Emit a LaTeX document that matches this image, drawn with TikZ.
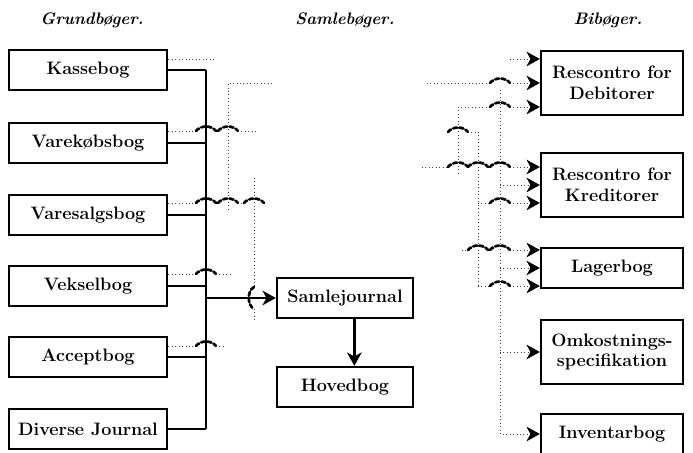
\documentclass[tikz,border=0pt]{standalone}
\usetikzlibrary{arrows.meta}
\newcommand\hopover[2]{\draw[hop] ({#1-10},#2) .. controls ({#1-5},{#2-6}) and ({#1+5},{#2-6}) .. ({#1+10},#2);}
\begin{document}
\begin{tikzpicture}[x=0.75pt, y=-0.75pt,
    book/.style={draw, line width=1.8pt, minimum height=30pt, inner sep=2pt,
      font=\fontsize{13.5}{15.5}\selectfont\bfseries, align=center},
    grundbook/.style={book, minimum width=118.5pt},
    midbook/.style={book, minimum width=102pt},
    bibook/.style={book, minimum width=106.5pt},
    coltitle/.style={font=\fontsize{12.5}{14}\selectfont\bfseries\itshape},
    busline/.style={line width=1.8pt},
    dots/.style={dotted, line width=0.6pt, black!75},
    hop/.style={line width=2pt, dash pattern=on 3pt off 1.8pt, line cap=round},
    arr/.style={-{Stealth[length=10pt, width=11pt, inset=3pt, color=black]}}]
    \useasboundingbox (0,0) rectangle (693,453);
    % column titles
    \node[coltitle] (t1) at (92,20) {Grundbøger.};
    \node[coltitle] (t2) at (345,20) {Samlebøger.};
    \node[coltitle] (t3) at (608,20) {Bibøger.};
    % Grundboger and the bus
    \node[grundbook] (kasse) at (88,70) {Kassebog};
    \node[grundbook] (varek) at (88,143) {Varekøbsbog};
    \node[grundbook] (vares) at (88,215) {Varesalgsbog};
    \node[grundbook] (veksel) at (88,286) {Vekselbog};
    \node[grundbook] (accept) at (88,357) {Acceptbog};
    \node[grundbook] (divers) at (88,429) {Diverse Journal};
    \coordinate (b1) at (206,70);
    \draw[busline] (b1) -- (b1 |- divers.east);
    \foreach \n in {kasse,varek,vares,veksel,accept,divers}
      \draw[busline] (\n.east) -- (\n.east -| b1);
    % Samleboger
    \node[midbook] (samle) at (345,298) {Samlejournal};
    \node[midbook] (hoved) at (345,387) {Hovedbog};
    \draw[busline, arr] (samle.west -| b1) -- (samle.west);
    \draw[busline, arr] ([xshift=7pt]samle.south) -- ([xshift=7pt]hoved.north);
    % Biboger
    \node[bibook, minimum height=48pt] (debit) at (612,83) {Rescontro for\\Debitorer};
    \node[bibook, minimum height=48pt] (kredit) at (612,185) {Rescontro for\\Kreditorer};
    \node[bibook] (lager) at (612,268) {Lagerbog};
    \node[bibook, minimum height=48pt] (omkost) at (612,352) {Omkostnings-\\specifikation};
    \node[bibook] (invent) at (612,434) {Inventarbog};
    % dotted lines, left part
    \draw[dots] (kasse.east |- 0,59) -- (215,59);
    \draw[dots] (272,83) -- (228,83) -- (228,210);
    \draw[dots] (varek.east |- 0,131) -- (196,131);
    \hopover{206}{131} \hopover{228}{131}
    \draw[dots] (238,131) -- (257,131);
    \draw[dots] (vares.east |- 0,203) -- (196,203);
    \hopover{206}{203} \hopover{228}{203} \hopover{254}{203}
    \draw[dots] (238,203) -- (244,203);
    \draw[dots] (254,178) -- (254,287);
    \draw[hop] (254,287) .. controls (247,291) and (247,305) .. (254,309);
    \draw[dots] (254,309) -- (254,320);
    \draw[dots] (veksel.east |- 0,274) -- (196,274);
    \hopover{206}{274}
    \draw[dots] (216,274) -- (232,274);
    \draw[dots] (accept.east |- 0,346) -- (196,346);
    \hopover{206}{346}
    \draw[dots] (216,346) -- (223,346);
    % dotted lines, right part
    \draw[dots] (458,107) -- (458,176);
    \draw[dots] (478,132) -- (478,286);
    \draw[dots, arr] (500,90) -- (500,434) -- (invent.west);
    \draw[dots, arr] (510,59) -- ([yshift=18pt]debit.west);
    \draw[dots] (427,83) -- (490,83);
    \hopover{500}{83}
    \draw[dots, arr] (510,83) -- (debit.west);
    \draw[dots] (458,107) -- (490,107);
    \hopover{500}{107}
    \draw[dots, arr] (510,107) -- ([yshift=-18pt]debit.west);
    \hopover{458}{132}
    \draw[dots] (468,132) -- (478,132);
    \draw[dots] (422,167) -- (448,167);
    \hopover{458}{167} \hopover{478}{167} \hopover{500}{167}
    \draw[dots, arr] (510,167) -- ([yshift=13.5pt]kredit.west);
    \draw[dots, arr] (500,185) -- (kredit.west);
    \draw[dots] (478,203) -- (490,203);
    \hopover{500}{203}
    \draw[dots, arr] (510,203) -- ([yshift=-13.5pt]kredit.west);
    \draw[dots] (462,250) -- (468,250);
    \hopover{478}{250} \hopover{500}{250}
    \draw[dots, arr] (510,250) -- ([yshift=13.5pt]lager.west);
    \draw[dots, arr] (500,268) -- (lager.west);
    \draw[dots] (478,286) -- (490,286);
    \hopover{500}{286}
    \draw[dots, arr] (510,286) -- ([yshift=-13.5pt]lager.west);
    \draw[dots, arr] (500,352) -- (omkost.west);
\end{tikzpicture}
\end{document}
